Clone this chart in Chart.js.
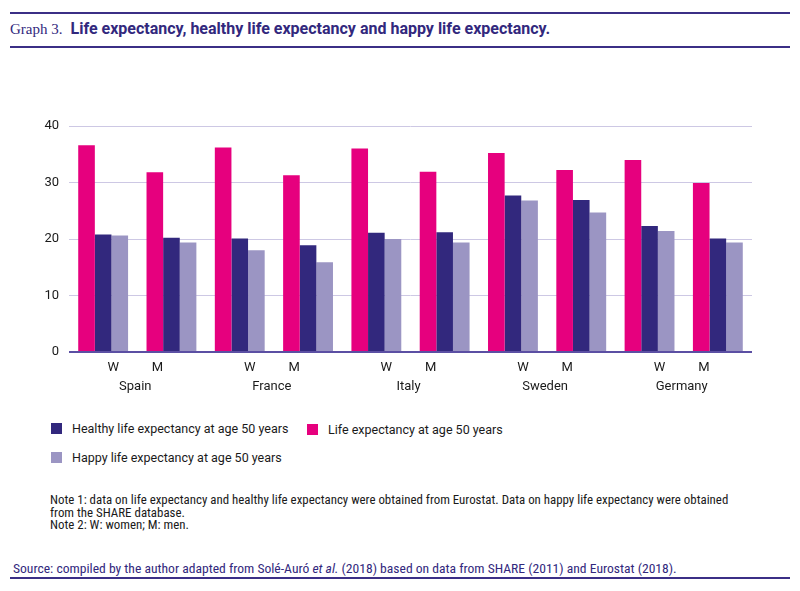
<!DOCTYPE html>
<html>
<head>
<meta charset="utf-8">
<script src="https://cdn.jsdelivr.net/npm/chart.js@4.4.1/dist/chart.umd.min.js"></script>
<style>
  html, body { margin: 0; padding: 0; background: #fff; }
  body { width: 800px; height: 591px; position: relative; overflow: hidden; font-family: Roboto, "Liberation Sans", sans-serif; }
  .rule { position: absolute; left: 10px; width: 780px; height: 2px; background: #3b2f86; }
  #title { position: absolute; left: 10px; top: 19px; white-space: nowrap; color: #32287d; }
  #title .num { font-family: "Liberation Serif", "DejaVu Serif", serif; font-size: 15px; }
  #title .txt { font-family: Roboto, sans-serif; font-weight: 700; font-size: 16px; margin-left: 8px; }
  #chart { position: absolute; left: 22px; top: 100px; }
  .leg { position: absolute; font-size: 12.5px; color: #1a1a1a; white-space: nowrap; }
  .leg i { position: absolute; left: -21px; top: 2px; width: 11px; height: 11px; }
  #notes { position: absolute; left: 50px; top: 494px; font-family: "Liberation Sans Narrow", "Roboto Condensed", Roboto, sans-serif; font-size: 12.9px; line-height: 12.6px; color: #1a1a1a; width: 700px; }
  #source { position: absolute; left: 13px; top: 560px; font-family: "Liberation Sans Narrow", "Roboto Condensed", Roboto, sans-serif; font-size: 13.6px; color: #32287d; white-space: nowrap; }
</style>
</head>
<body>
<div class="rule" style="top:12px"></div>
<div id="title"><span class="num">Graph 3.</span><span class="txt">Life expectancy, healthy life expectancy and happy life expectancy.</span></div>
<div class="rule" style="top:46px"></div>

<canvas id="chart" width="730" height="300"></canvas>

<div id="legend"></div>

<div id="notes">Note 1: data on life expectancy and healthy life expectancy were obtained from Eurostat. Data on happy life expectancy were obtained<br>from the SHARE database.<br>Note 2: W: women; M: men.</div>
<div id="source">Source: compiled by the author adapted from Solé-Auró <i>et al.</i> (2018) based on data from SHARE (2011) and Eurostat (2018).</div>
<div class="rule" style="top:577px"></div>

<script>
const countries = ['Spain', 'France', 'Italy', 'Sweden', 'Germany'];
const sexes = ['W', 'M'];
const categories = ['Spain W', 'Spain M', 'France W', 'France M', 'Italy W', 'Italy M', 'Sweden W', 'Sweden M', 'Germany W', 'Germany M'];

const lifeExpectancy    = [36.6, 31.8, 36.2, 31.3, 36.0, 31.9, 35.2, 32.2, 34.0, 29.9];
const healthyExpectancy = [20.8, 20.2, 20.1, 18.9, 21.1, 21.2, 27.7, 26.9, 22.3, 20.1];
const happyExpectancy   = [20.6, 19.4, 18.0, 15.9, 20.0, 19.4, 26.8, 24.7, 21.4, 19.4];

const yTicks = [0, 10, 20, 30, 40];

const pink = '#e6007e';
const darkBlue = '#32287d';
const lilac = '#9b95c3';

// legend (html, laid out like the printed figure)
const legendItems = [
  { label: 'Healthy life expectancy at age 50 years', color: darkBlue, x: 72, y: 421 },
  { label: 'Life expectancy at age 50 years', color: pink, x: 328, y: 422 },
  { label: 'Happy life expectancy at age 50 years', color: lilac, x: 72, y: 450 }
];
const legendBox = document.getElementById('legend');
legendItems.forEach(item => {
  const d = document.createElement('div');
  d.className = 'leg';
  d.style.left = item.x + 'px';
  d.style.top = item.y + 'px';
  d.innerHTML = '<i style="background:' + item.color + '"></i>' + item.label;
  legendBox.appendChild(d);
});

// W / M labels and country names under the axis
const groupLabels = {
  id: 'groupLabels',
  afterDraw(chart) {
    const ctx = chart.ctx;
    const x = chart.scales.x;
    const base = chart.chartArea.bottom;
    ctx.save();
    ctx.fillStyle = '#1a1a1a';
    ctx.font = '13px Roboto, sans-serif';
    ctx.textAlign = 'center';
    ctx.textBaseline = 'middle';
    categories.forEach((c, i) => {
      const sx = sexes[i % 2];
      const px = x.getPixelForValue(i) + (sx === 'W' ? 10 : -14);
      ctx.fillText(sx, px, base + 16);
    });
    countries.forEach((name, k) => {
      const px = (x.getPixelForValue(2 * k) + x.getPixelForValue(2 * k + 1)) / 2 - 2;
      ctx.fillText(name, px, base + 35);
    });
    ctx.restore();
  }
};

const ctx = document.getElementById('chart').getContext('2d');
new Chart(ctx, {
  type: 'bar',
  data: {
    labels: categories,
    datasets: [
      { label: 'Life expectancy at age 50 years', data: lifeExpectancy, backgroundColor: pink },
      { label: 'Healthy life expectancy at age 50 years', data: healthyExpectancy, backgroundColor: darkBlue },
      { label: 'Happy life expectancy at age 50 years', data: happyExpectancy, backgroundColor: lilac }
    ]
  },
  options: {
    responsive: false,
    animation: false,
    layout: { padding: { top: 26, right: 0, bottom: 0, left: 0 } },
    datasets: { bar: { categoryPercentage: 0.73, barPercentage: 1.0 } },
    plugins: {
      legend: { display: false },
      tooltip: { enabled: false }
    },
    scales: {
      x: {
        ticks: { display: false },
        grid: { display: false },
        border: { display: false },
        afterFit(scale) { scale.height = 48; }
      },
      y: {
        min: 0,
        max: 40,
        afterBuildTicks(scale) { scale.ticks = yTicks.map(v => ({ value: v })); },
        ticks: {
          padding: 10,
          color: '#1a1a1a',
          font: { family: 'Roboto, sans-serif', size: 13 }
        },
        grid: {
          drawTicks: false,
          color: c => c.tick && c.tick.value === 0 ? '#5b4fa3' : '#cdc8e4',
          lineWidth: c => c.tick && c.tick.value === 0 ? 2 : 1
        },
        border: { display: false },
        afterFit(scale) { scale.width = 47; }
      }
    }
  },
  plugins: [groupLabels]
});
</script>
</body>
</html>
